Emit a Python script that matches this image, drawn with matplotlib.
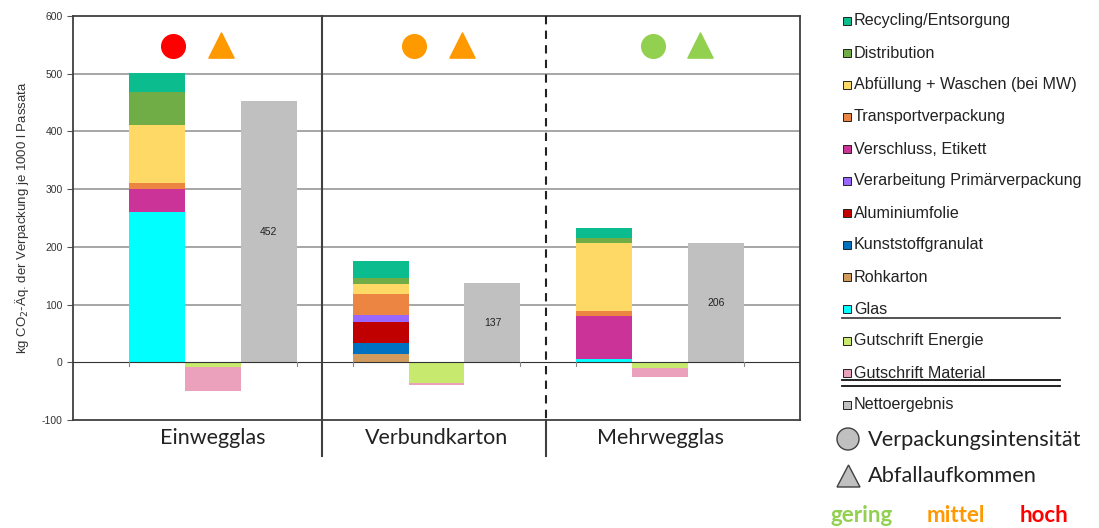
import matplotlib.pyplot as plt
from matplotlib.patches import Rectangle, Circle, Polygon

plt.rcParams['axes.unicode_minus'] = False

# Daten
categories = ['Einwegglas', 'Verbundkarton', 'Mehrwegglas']
glas = [260, 0, 5]
rohkarton = [0, 14, 0]
kunststoff = [0, 20, 0]
alu = [0, 35, 0]
verarbeitung = [0, 13, 0]
verschluss = [40, 0, 76]
transport = [11, 37, 8]
abfuellung = [101, 16, 117]
distribution = [57, 11, 10]
recycling = [32, 30, 17]
gs_energie = [-8, -36, -10]
gs_material = [-42, -4, -16]
netto = [452, 137, 206]

intensitaet = ['hoch', 'mittel', 'gering']
abfall = ['mittel', 'mittel', 'gering']
stufen = ['gering', 'mittel', 'hoch']
stufen_farben = {'gering': '#92d050', 'mittel': '#ff9900', 'hoch': '#ff0000'}

# Stapel von unten nach oben
stack = [
    ('Glas', glas, '#00ffff'),
    ('Rohkarton', rohkarton, '#d29b5e'),
    ('Kunststoffgranulat', kunststoff, '#0070c0'),
    ('Aluminiumfolie', alu, '#c00000'),
    ('Verarbeitung Primärverpackung', verarbeitung, '#9966ff'),
    ('Verschluss, Etikett', verschluss, '#cc3399'),
    ('Transportverpackung', transport, '#ed8542'),
    ('Abfüllung + Waschen (bei MW)', abfuellung, '#ffd966'),
    ('Distribution', distribution, '#70ad47'),
    ('Recycling/Entsorgung', recycling, '#0bbd8e'),
]
credits = [
    ('Gutschrift Energie', gs_energie, '#c6e96e'),
    ('Gutschrift Material', gs_material, '#eba0bb'),
]
netto_farbe = '#c0c0c0'

fig = plt.figure(figsize=(10.99, 5.28), dpi=100)
ax = fig.add_axes([73/1099, 108/528, 727/1099, 404/528])

starts = [1, 5, 9]
for i, s in enumerate(starts):
    bottom = 0
    for name, vals, col in stack:
        if vals[i] > 0:
            ax.bar(s, vals[i], width=1, bottom=bottom, align='edge', color=col, zorder=3)
            bottom += vals[i]
    bottom = 0
    for name, vals, col in credits:
        ax.bar(s + 1, vals[i], width=1, bottom=bottom, align='edge', color=col, zorder=3)
        bottom += vals[i]
    ax.bar(s + 2, netto[i], width=1, align='edge', color=netto_farbe, zorder=3)
    ax.text(s + 2.5, netto[i] / 2, str(netto[i]), ha='center', va='center',
            fontsize=7.5, family='Liberation Sans', color='#222222', zorder=4)

# Bewertungssymbole
circ_x = [1.79, 6.09, 10.37]
tri_x = [2.65, 6.96, 11.21]
for i in range(3):
    ax.scatter(circ_x[i], 548, s=290, marker='o', color=stufen_farben[intensitaet[i]], zorder=5, clip_on=False)
    ax.scatter(tri_x[i], 550, s=330, marker='^', color=stufen_farben[abfall[i]], zorder=5, clip_on=False)

ax.set_xlim(0, 13)
ax.set_ylim(-100, 600)
ax.set_yticks(range(-100, 601, 100))
ax.tick_params(axis='y', labelsize=7.5, labelcolor='#333333', length=4, color='#555555')
for lab in ax.get_yticklabels():
    lab.set_family('Liberation Sans')
ax.set_xticks([])
for y in range(100, 600, 100):
    ax.axhline(y, color='#a6a6a6', lw=1.4, zorder=1)
ax.axhline(0, color='#333333', lw=0.8, zorder=4)
for t in [1, 4, 5, 8, 9, 12]:
    ax.plot([t, t], [0, -7], color='#888888', lw=0.8, zorder=4)
for sp in ax.spines.values():
    sp.set_color('#404040')
    sp.set_linewidth(1.3)

ax.set_ylabel('kg CO$_2$-Äq. der Verpackung je 1000 l Passata', fontsize=9.5,
              family='Liberation Sans', color='#333333', labelpad=8)

# Trennlinien
ax.plot([4.45, 4.45], [600, -162], color='#404040', lw=1.5, clip_on=False, zorder=6)
ax.plot([8.45, 8.45], [600, -100], color='#222222', lw=1.5, ls=(0, (4, 3)), zorder=6)
ax.plot([8.45, 8.45], [-100, -162], color='#404040', lw=1.5, clip_on=False, zorder=6)

for i, c in enumerate(categories):
    ax.text(starts[i] + 1.5, -132, c, ha='center', va='center', fontsize=15.5,
            family='Lato', color='#222222')

# Legende (manuell, in Pixelkoordinaten)
lg = fig.add_axes([0, 0, 1, 1], facecolor='none')
lg.set_xlim(0, 1099)
lg.set_ylim(528, 0)
lg.axis('off')

legend_items = [(n, c) for n, v, c in stack[::-1]] + [(n, c) for n, v, c in credits] + [('Nettoergebnis', netto_farbe)]
for k, (name, col) in enumerate(legend_items):
    y = 21 + k * 32
    lg.add_patch(Rectangle((842.5, y - 4), 8, 8, facecolor=col, edgecolor='#222222', lw=0.7))
    lg.text(854, y, name, va='center', ha='left', fontsize=11.6, family='Liberation Sans', color='#222222')
lg.plot([842, 1060], [318, 318], color='#444444', lw=1.3)
lg.plot([842, 1060], [380, 380], color='#111111', lw=1.3)
lg.plot([842, 1060], [386, 386], color='#111111', lw=1.3)

lg.add_patch(Circle((848, 439), 11, facecolor='#c0c0c0', edgecolor='#404040', lw=1))
lg.text(868, 440, 'Verpackungsintensität', va='center', ha='left', fontsize=15.7, family='Lato', color='#222222')
lg.add_patch(Polygon([[837, 487], [860, 487], [848.5, 465]], closed=True,
                     facecolor='#c0c0c0', edgecolor='#404040', lw=1))
lg.text(868, 476, 'Abfallaufkommen', va='center', ha='left', fontsize=15.7, family='Lato', color='#222222')

stufen_x = [862, 956, 1044]
for k, s in enumerate(stufen):
    lg.text(stufen_x[k], 516, s, ha='center', va='center', fontsize=16, family='Lato',
            fontweight='bold', color=stufen_farben[s])

fig.savefig('out.png', dpi=100)
